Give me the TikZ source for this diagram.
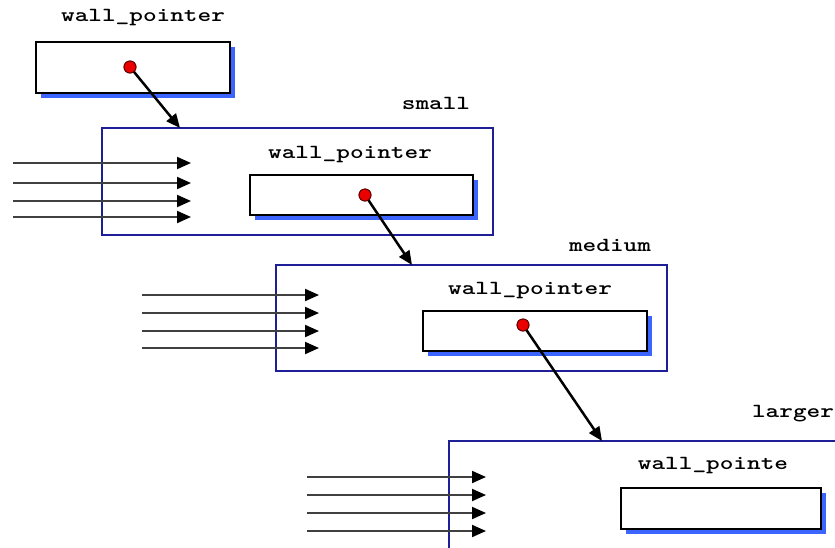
\documentclass[tikz,border=0pt]{standalone}
\usepackage{fontspec}
\newfontfamily\courfont{Latin Modern Mono Light}
\usetikzlibrary{arrows.meta}
\definecolor{shadowblue}{RGB}{60,100,255}
\definecolor{framenavy}{RGB}{30,30,150}
\definecolor{dotred}{RGB}{235,0,0}
\newcommand{\lbl}[1]{\scalebox{1.3}[1]{\courfont\bfseries #1}}
\tikzset{
  lbltext/.style={inner sep=0pt, font=\fontsize{20}{23}\selectfont},
  slotbox/.style={draw=black, line width=1.4pt, fill=white},
  shadowbox/.style={fill=shadowblue, draw=none},
  framebox/.style={draw=framenavy, line width=1.3pt},
  reddot/.style={circle, fill=dotred, draw=black!60!red, line width=0.9pt, inner sep=0pt, minimum size=12pt},
  ptrarrow/.style={line width=2.5pt, -{Triangle[length=14pt,width=12pt]}},
  inarrow/.style={line width=2pt, black!75, -{Triangle[length=14pt,width=12pt,color=black]}},
}
\begin{document}
\begin{tikzpicture}[x=1pt,y=-1pt]
\useasboundingbox (0,0) rectangle (835,547);
\clip (0,0) rectangle (835,547);
\fill[white] (0,0) rectangle (835,547);

% ---- top slot ----
\node[lbltext] (l0) at (143,18) {\lbl{wall\_pointer}};
\fill[shadowbox] (40.5,46.5) rectangle (234.5,97.5);
\draw[slotbox] (36,42) rectangle (230,93);
\node[reddot] (d0) at (130,67) {};

% ---- small ----
\node[lbltext] (ls) at (436,103) {\lbl{small}};
\draw[framebox] (102,128) rectangle (493,235);
\coordinate (s_in) at (180,128);
\foreach \y [count=\i] in {163,183,201,217} {
  \coordinate (sa\i) at (13,\y);
  \coordinate (sb\i) at (191,\y);
  \draw[inarrow] (sa\i) -- (sb\i);
}
\node[lbltext] (l1) at (350,155) {\lbl{wall\_pointer}};
\fill[shadowbox] (254.5,179.5) rectangle (477.5,219.5);
\draw[slotbox] (250,175) rectangle (473,215);
\node[reddot] (d1) at (365,195) {};

% ---- medium ----
\node[lbltext] (lm) at (610,245) {\lbl{medium}};
\draw[framebox] (276,265) rectangle (667,371);
\coordinate (m_in) at (412,265);
\foreach \y [count=\i] in {295,313,331,348} {
  \coordinate (ma\i) at (142,\y);
  \coordinate (mb\i) at (319,\y);
  \draw[inarrow] (ma\i) -- (mb\i);
}
\node[lbltext] (l2) at (530,291) {\lbl{wall\_pointer}};
\fill[shadowbox] (427.5,315.5) rectangle (651.5,355.5);
\draw[slotbox] (423,311) rectangle (647,351);
\node[reddot] (d2) at (523,325) {};

% ---- larger ----
\node[lbltext] (lg) at (793,414) {\lbl{larger}};
\draw[framebox] (449,441) rectangle (860,580);
\coordinate (g_in) at (602,441);
\foreach \y [count=\i] in {477,495,513,531} {
  \coordinate (ga\i) at (307,\y);
  \coordinate (gb\i) at (486,\y);
  \draw[inarrow] (ga\i) -- (gb\i);
}
\node[lbltext] (l3) at (713,466) {\lbl{wall\_pointe}};
\fill[shadowbox] (625.5,492.5) rectangle (825.5,533.5);
\draw[slotbox] (621,488) rectangle (821,529);

% ---- pointers ----
\draw[ptrarrow] (d0.center) -- (s_in);
\draw[ptrarrow] (d1.center) -- (m_in);
\draw[ptrarrow] (d2.center) -- (g_in);
\node[reddot] at (d0) {};
\node[reddot] at (d1) {};
\node[reddot] at (d2) {};
\end{tikzpicture}
\end{document}
